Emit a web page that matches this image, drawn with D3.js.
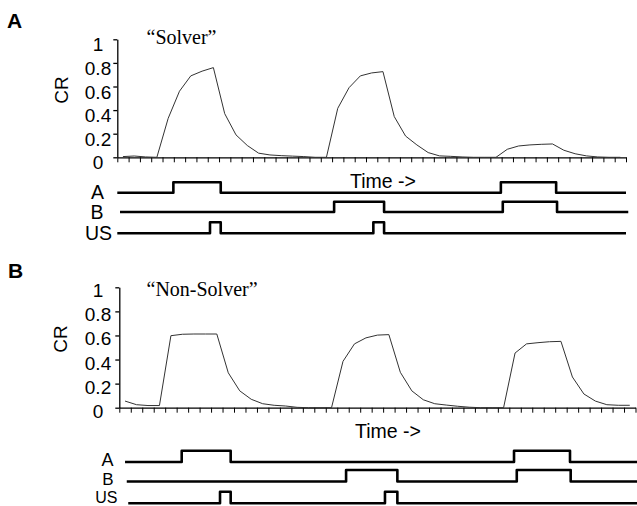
<!DOCTYPE html>
<html><head><meta charset="utf-8">
<script src="https://cdn.jsdelivr.net/npm/d3@7"></script>
<style>html,body{margin:0;padding:0;background:#fff;} svg{display:block;}</style>
</head><body>
<svg id="chart" width="637" height="506"></svg>
<script>
// ---------- data ----------
const timeTicks = d3.range(0, 46);                 // x-axis tick marks (time steps)
const yTicks = [0, 0.2, 0.4, 0.6, 0.8, 1];
const yTickLabels = ["0", "0.2", "0.4", "0.6", "0.8", "1"];
const panelLetters = ["A", "B"];
const panelTitles = ["\u201CSolver\u201D", "\u201CNon-Solver\u201D"];
const yLabel = "CR";
const xLabel = "Time ->";
const traceNames = ["A", "B", "US"];

// CR value at the centre of each time step (0..44)
const solverCR = [0.006, 0.011, 0.003, 0, 0.33, 0.56, 0.69, 0.73, 0.76, 0.37,
  0.19, 0.10, 0.035, 0.02, 0.014, 0.01, 0.006, 0, 0, 0.415,
  0.59, 0.69, 0.715, 0.726, 0.345, 0.18, 0.105, 0.04, 0.012, 0.008,
  0.003, 0, 0, 0, 0.068, 0.096, 0.105, 0.11, 0.113, 0.06,
  0.03, 0.012, 0.003, 0, 0];
const nonSolverCR = [0.055, 0.025, 0.018, 0.018, 0.598, 0.61, 0.612, 0.612, 0.612, 0.29,
  0.14, 0.07, 0.033, 0.02, 0.014, 0.003, 0, 0, 0, 0.385,
  0.53, 0.58, 0.603, 0.607, 0.294, 0.14, 0.066, 0.033, 0.022, 0.012,
  0.004, 0, 0, 0, 0.454, 0.53, 0.54, 0.548, 0.551, 0.255,
  0.114, 0.055, 0.025, 0.02, 0.02];

// stimulus traces: [start, end] of trace and [on, off] pulses, in time-step units
const solverTraceSpan = [[0, 45], [0.24, 45.2], [0, 45]];
const solverA = [[4.96, 9.15], [33.93, 38.82]];
const solverB = [[19.18, 23.6], [34.1, 38.9]];
const solverUS = [[8.2, 9.15], [22.65, 23.6]];
const nonSolverTraceSpan = [[0.5, 45.3], [0.65, 45.3], [0.78, 45.3]];
const nonSolverA = [[5.44, 9.71], [34.41, 39.29]];
const nonSolverB = [[19.77, 24.24], [34.65, 39.35]];
const nonSolverUS = [[8.78, 9.71], [23.16, 24.24]];

// ---------- layout ----------
const panels = [
  { cr: solverCR, pulses: [solverA, solverB, solverUS], spans: solverTraceSpan,
    x0: 117.3, x1: 626, yTop: 39.3, yBot: 157.3, tickDy: 12,
    letter: [7, 28.3], title: [146.5, 44.3], yLab: [68.3, 90], xLab: [350, 187.7],
    traces: [{base: 192.7, top: 182.3, lx: 104, ly: 199, fs: 19.5},
             {base: 212, top: 201.7, lx: 103.5, ly: 219, fs: 19.5},
             {base: 233.3, top: 222.3, lx: 112, ly: 240, fs: 19.5}] },
  { cr: nonSolverCR, pulses: [nonSolverA, nonSolverB, nonSolverUS], spans: nonSolverTraceSpan,
    x0: 119.3, x1: 635.5, yTop: 287.3, yBot: 407.7, tickDy: 10,
    letter: [8, 278.3], title: [146.5, 296], yLab: [66.7, 339], xLab: [355, 437.7],
    traces: [{base: 462, top: 450.7, lx: 113.5, ly: 465.5, fs: 18},
             {base: 481.5, top: 470, lx: 113.5, ly: 485, fs: 17},
             {base: 503.3, top: 491.7, lx: 117.5, ly: 503, fs: 16}] }
];

const svg = d3.select("#chart");
const sans = "'Liberation Sans', Arial, Helvetica, sans-serif";
const serif = "'Liberation Serif', 'Times New Roman', serif";

panels.forEach((p, pi) => {
  const g = svg.append("g");
  const x = d3.scaleLinear().domain([0, 45]).range([p.x0, p.x1]);
  const y = d3.scaleLinear().domain([0, 1]).range([p.yBot, p.yTop]);

  // panel letter
  g.append("text").attr("x", p.letter[0]).attr("y", p.letter[1])
    .attr("font-family", sans).attr("font-weight", "bold").attr("font-size", 21)
    .text(panelLetters[pi]);

  // title
  g.append("text").attr("x", p.title[0]).attr("y", p.title[1])
    .attr("font-family", serif).attr("font-size", 20).text(panelTitles[pi]);

  // y axis
  const ya = g.append("g").attr("transform", `translate(${p.x0},0)`)
    .call(d3.axisLeft(y).tickValues(yTicks).tickSize(4).tickSizeOuter(0).tickFormat(""));
  ya.selectAll("path,line").attr("stroke", "#000").attr("stroke-width", 1.3);
  g.selectAll(".ylab").data(yTicks).enter().append("text")
    .attr("x", 98).attr("y", d => y(d) + p.tickDy)
    .attr("text-anchor", "middle").attr("font-family", sans).attr("font-size", 19)
    .text((d, i) => yTickLabels[i]);

  // y label
  g.append("text").attr("transform", `translate(${p.yLab[0]},${p.yLab[1]}) rotate(-90)`)
    .attr("text-anchor", "middle").attr("font-family", sans).attr("font-size", 19)
    .text(yLabel);

  // x axis
  const xa = g.append("g").attr("transform", `translate(0,${p.yBot})`)
    .call(d3.axisBottom(x).tickValues(timeTicks).tickSize(5).tickSizeOuter(0).tickFormat(""));
  xa.selectAll("path").attr("stroke", "#000").attr("stroke-width", 1.3);
  xa.selectAll("line").attr("stroke", "#000").attr("stroke-width", 1);

  // x label
  g.append("text").attr("x", p.xLab[0]).attr("y", p.xLab[1])
    .attr("font-family", sans).attr("font-size", 19.5).text(xLabel);

  // CR curve
  const line = d3.line().x((d, i) => x(i + 0.5)).y(d => y(d));
  g.append("path").datum(p.cr).attr("d", line)
    .attr("fill", "none").attr("stroke", "#333").attr("stroke-width", 1)
    .attr("stroke-linejoin", "round");

  // stimulus traces
  p.traces.forEach((t, ti) => {
    const ty = d3.scaleLinear().domain([0, 1]).range([t.base, t.top]);
    const span = p.spans[ti];
    const pts = [[span[0], 0]];
    p.pulses[ti].forEach(([on, off]) => {
      pts.push([on, 0], [on, 1], [off, 1], [off, 0]);
    });
    pts.push([span[1], 0]);
    const tl = d3.line().x(d => x(d[0])).y(d => ty(d[1]));
    g.append("path").datum(pts).attr("d", tl)
      .attr("fill", "none").attr("stroke", "#000").attr("stroke-width", 2.6)
      .attr("stroke-linejoin", "round");
    g.append("text").attr("x", t.lx).attr("y", t.ly).attr("text-anchor", "end")
      .attr("font-family", sans).attr("font-size", t.fs).text(traceNames[ti]);
  });
});
</script>
</body></html>
